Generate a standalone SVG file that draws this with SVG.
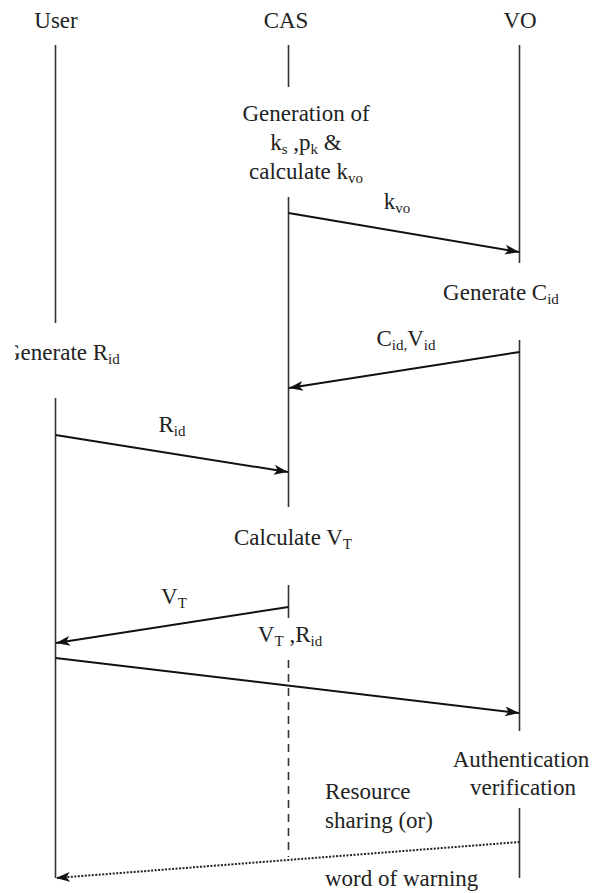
<svg xmlns="http://www.w3.org/2000/svg" width="599" height="893" viewBox="0 0 599 893">
<style>
  text { font-family: "Liberation Serif", "Times New Roman", serif; font-size: 23px; fill: #222; }
  .sub { font-size: 15px; }
  .life { stroke: #333; stroke-width: 1.6; fill: none; }
  .dash { stroke: #333; stroke-width: 1.6; fill: none; stroke-dasharray: 8 6; }
  .msg { stroke: #111; stroke-width: 2; fill: none; marker-end: url(#ah); }
  .dot { stroke: #222; stroke-width: 2; fill: none; stroke-dasharray: 2 1.5; marker-end: url(#ah); }
</style>
<defs>
  <marker id="ah" markerUnits="userSpaceOnUse" markerWidth="16" markerHeight="12" refX="14" refY="5" orient="auto">
    <path d="M0,0 L14,5 L0,10 L3.5,5 Z" fill="#111"/>
  </marker>
  <clipPath id="clipL"><rect x="15" y="0" width="599" height="893"/></clipPath>
</defs>

<g id="user">
  <text x="56" y="28" text-anchor="middle">User</text>
  <path class="life" d="M55.5,45 V323 M55.5,398 V878"/>
</g>
<g id="cas">
  <text x="286" y="28" text-anchor="middle">CAS</text>
  <path class="life" d="M288.5,45 V87 M288.5,197 V507 M288.5,585 V618"/>
  <path class="dash" d="M288.5,660 V857"/>
</g>
<g id="vo">
  <text x="520" y="28" text-anchor="middle">VO</text>
  <path class="life" d="M519.5,45 V263 M519.5,340 V731 M519.5,808 V878"/>
</g>

<g id="gen-keys">
  <text x="306" y="121" text-anchor="middle">Generation of</text>
  <text x="306" y="150" text-anchor="middle">k<tspan class="sub" dy="4">s</tspan><tspan dy="-4"> ,p</tspan><tspan class="sub" dy="4">k</tspan><tspan dy="-4"> &amp;</tspan></text>
  <text x="306" y="179" text-anchor="middle">calculate k<tspan class="sub" dy="4">vo</tspan></text>
</g>
<g id="gen-cid">
  <text x="501" y="300" text-anchor="middle">Generate C<tspan class="sub" dy="4">id</tspan></text>
</g>
<g id="gen-rid">
  <text x="4" y="360" clip-path="url(#clipL)">Generate R<tspan class="sub" dy="4">id</tspan></text>
</g>
<g id="calc-vt">
  <text x="293" y="545" text-anchor="middle">Calculate V<tspan class="sub" dy="4">T</tspan></text>
</g>
<g id="auth">
  <text x="521" y="767" text-anchor="middle">Authentication</text>
  <text x="523" y="795" text-anchor="middle">verification</text>
</g>

<g id="connectors">
  <path class="msg" d="M288.5,213 L519,252"/>
  <path class="msg" d="M519.5,352 L289,388"/>
  <path class="msg" d="M55.5,435 L288,472"/>
  <path class="msg" d="M288.5,607 L56,643"/>
  <path class="msg" d="M55.5,658 L519,713"/>
  <path class="dot" d="M519.5,842 L56,878"/>
</g>

<g id="labels">
  <text x="397" y="209" text-anchor="middle">k<tspan class="sub" dy="4">vo</tspan></text>
  <text x="406" y="346" text-anchor="middle">C<tspan class="sub" dy="4">id,</tspan><tspan dy="-4">V</tspan><tspan class="sub" dy="4">id</tspan></text>
  <text x="172" y="432" text-anchor="middle">R<tspan class="sub" dy="4">id</tspan></text>
  <text x="174" y="604" text-anchor="middle">V<tspan class="sub" dy="4">T</tspan></text>
  <text x="290" y="642" text-anchor="middle">V<tspan class="sub" dy="4">T</tspan><tspan dy="-4"> ,R</tspan><tspan class="sub" dy="4">id</tspan></text>
  <text x="325" y="799">Resource</text>
  <text x="325" y="828">sharing (or)</text>
  <text x="325" y="886">word of warning</text>
</g>
</svg>
